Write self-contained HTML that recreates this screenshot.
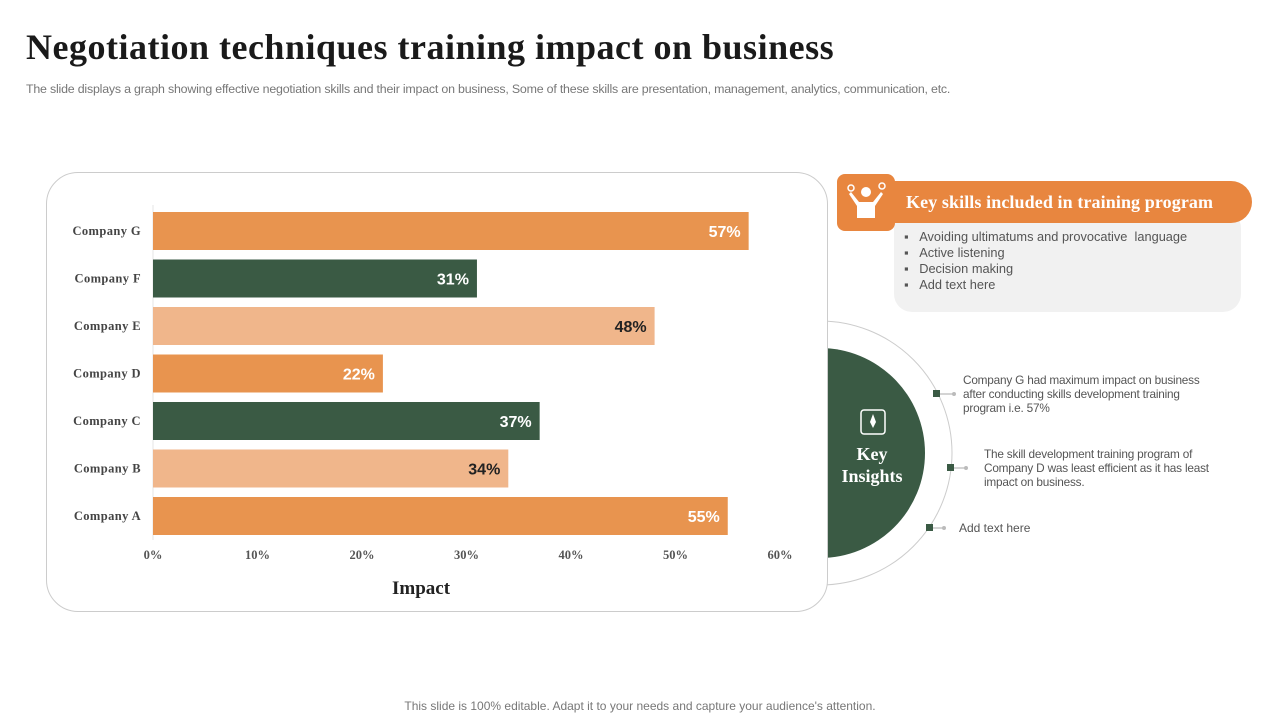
<!DOCTYPE html>
<html><head><meta charset="utf-8"><style>
body{margin:0;width:1280px;height:720px;background:#fff;position:relative;overflow:hidden;font-family:"Liberation Sans",sans-serif}
.abs{position:absolute}
</style></head><body>
<div class="abs" style="left:26px;top:26px;font:bold 36px 'Liberation Serif',serif;letter-spacing:0.5px;color:#1a1a1a">Negotiation techniques training impact on business</div>
<div class="abs" style="left:26px;top:82px;font-size:12.4px;color:#777;letter-spacing:-0.2px">The slide displays a graph showing effective negotiation skills and their impact on business, Some of these skills are presentation, management, analytics, communication, etc.</div>

<svg class="abs" style="left:0;top:0" width="1280" height="720">
<circle cx="820" cy="453" r="132" fill="#fff" stroke="#ccc" stroke-width="1"/>
<circle cx="820" cy="453" r="105" fill="#3a5a44"/>
</svg>

<div class="abs" style="left:46px;top:172px;width:780px;height:438px;border:1px solid #ccc;border-radius:32px;background:#fff"></div>
<svg id="chart" class="abs" style="left:0;top:0" width="1280" height="720"></svg>

<svg class="abs" style="left:0;top:0" width="1280" height="720">
<rect x="861" y="410" width="24" height="24" rx="3" fill="none" stroke="#fff" stroke-width="1.5"/>
<path d="M873 414 l-3 8 3 6 3-6z" fill="#fff"/>
<text x="872" y="460" text-anchor="middle" font-family="Liberation Serif" font-weight="bold" font-size="18" fill="#fff">Key</text>
<text x="872" y="482" text-anchor="middle" font-family="Liberation Serif" font-weight="bold" font-size="18" fill="#fff">Insights</text>
<g>
<rect x="933" y="390" width="7" height="7" fill="#3a5a44"/><line x1="940" y1="394" x2="954" y2="394" stroke="#aaa"/><circle cx="954" cy="394" r="2" fill="#bbb"/>
<rect x="947" y="464" width="7" height="7" fill="#3a5a44"/><line x1="954" y1="468" x2="966" y2="468" stroke="#aaa"/><circle cx="966" cy="468" r="2" fill="#bbb"/>
<rect x="926" y="524" width="7" height="7" fill="#3a5a44"/><line x1="933" y1="528" x2="944" y2="528" stroke="#aaa"/><circle cx="944" cy="528" r="2" fill="#bbb"/>
</g>
</svg>
<div class="abs" style="left:963px;top:373px;width:262px;font-size:11.8px;line-height:14px;color:#555;letter-spacing:-0.2px">Company G had maximum impact on business after conducting skills development training program i.e. 57%</div>
<div class="abs" style="left:984px;top:447px;width:232px;font-size:11.8px;line-height:14px;color:#555;letter-spacing:-0.2px">The skill development training program of Company D was least efficient as it has least impact on business.</div>
<div class="abs" style="left:959px;top:521px;font-size:12px;color:#555">Add text here</div>

<div class="abs" style="left:894px;top:210px;width:347px;height:102px;background:#f1f1f1;border-radius:18px"></div>
<div class="abs" style="left:890px;top:181px;width:362px;height:42px;background:#e8863f;border-radius:0 21px 21px 0"></div>
<div class="abs" style="left:837px;top:174px;width:58px;height:57px;background:#e8863f;border-radius:8px"></div>
<svg class="abs" style="left:837px;top:174px" width="58" height="57">
<circle cx="29" cy="18" r="5" fill="#fff"/><path d="M14 18 L22 28 H36 L44 18 L46 20 L38 32 V44 H20 V32 L12 20Z" fill="#fff"/>
<circle cx="14" cy="14" r="3" fill="none" stroke="#fff" stroke-width="1.5"/><circle cx="45" cy="12" r="3" fill="none" stroke="#fff" stroke-width="1.5"/>
</svg>
<div class="abs" style="left:906px;top:192px;font:bold 18px 'Liberation Serif',serif;letter-spacing:0.1px;color:#fff">Key skills included in training program</div>
<div class="abs" style="left:904px;top:229px;font-size:12.8px;line-height:16px;color:#555">
<div>▪&nbsp;&nbsp;&nbsp;Avoiding ultimatums and provocative&nbsp; language</div>
<div>▪&nbsp;&nbsp;&nbsp;Active listening</div>
<div>▪&nbsp;&nbsp;&nbsp;Decision making</div>
<div>▪&nbsp;&nbsp;&nbsp;Add text here</div>
</div>
<div class="abs" style="left:0;width:1280px;top:699px;text-align:center;font-size:12px;color:#777">This slide is 100% editable. Adapt it to your needs and capture your audience's attention.</div>

<script>
const categories=["Company G","Company F","Company E","Company D","Company C","Company B","Company A"];
const values=[57,31,48,22,37,34,55];
const colors=["#e8944f","#3a5a44","#f0b68b","#e8944f","#3a5a44","#f0b68b","#e8944f"];
const textColors=["#fff","#fff","#222","#fff","#fff","#222","#fff"];
const ticks=[0,10,20,30,40,50,60];
const NS="http://www.w3.org/2000/svg";
const svg=document.getElementById('chart');
const x0=153,x1=780,maxV=60,yTop=212,step=47.5,bh=38;
const xs=v=>x0+(x1-x0)*v/maxV;
const ys=i=>yTop+i*step;
function el(t,a){const e=document.createElementNS(NS,t);for(const k in a)e.setAttribute(k,a[k]);svg.appendChild(e);return e;}
const ax=el('line',{x1:x0,y1:205,x2:x0,y2:540,stroke:'#e6e6e6'});


categories.forEach((c,i)=>{
 const r=el('rect',{x:x0,y:ys(i),width:xs(values[i])-x0,height:bh,fill:colors[i]});
 
 
 const l=el('text',{x:141,y:ys(i)+bh/2+4,'text-anchor':'end','font-family':'Liberation Serif','font-weight':'bold','font-size':12.5,'letter-spacing':0.4,fill:'#444'});
 l.textContent=c;
 
 
 const v=el('text',{x:xs(values[i])-8,y:ys(i)+bh/2+6,'text-anchor':'end','font-family':'Liberation Sans','font-weight':'bold','font-size':16,fill:textColors[i]});
 v.textContent=values[i]+'%';
 
 
});
ticks.forEach(t=>{
 const tx=el('text',{x:xs(t),y:559,'text-anchor':'middle','font-family':'Liberation Serif','font-weight':'bold','font-size':12.5,fill:'#555'});
 tx.textContent=t+'%';
 
 
});
const at=el('text',{x:421,y:594,'text-anchor':'middle','font-family':'Liberation Serif','font-weight':'bold','font-size':19,fill:'#222'});
at.textContent='Impact';


</script>
</body></html>
